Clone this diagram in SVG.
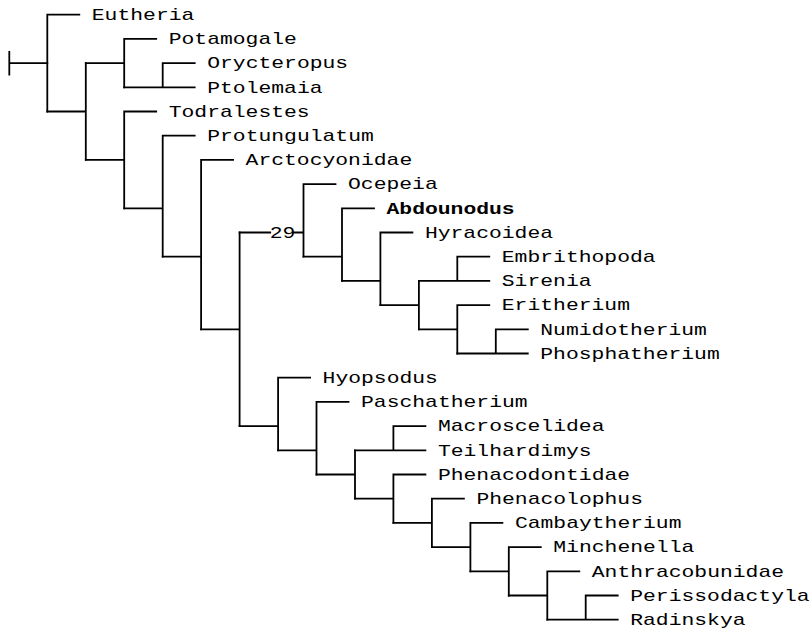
<svg xmlns="http://www.w3.org/2000/svg" width="811" height="632" viewBox="0 0 811 632">
<style>
.c{fill:none;stroke:#000;stroke-width:1.8;stroke-linecap:square}
.t{font-family:"Liberation Mono","Courier New",monospace;font-size:17px;fill:#000}
.b{font-weight:bold}
</style>
<rect width="811" height="632" fill="#fff"/>
<g id="connectors" class="c">
<path d="M9.3,52 V74.5 M9.3,63.1 H47.3"/>
<path d="M47.3,14.7 V111.5 M47.3,14.7 H79.3"/>
<path d="M47.3,111.5 H85.8 M85.8,63.1 V159.9"/>
<path d="M85.8,63.1 H124.2 M124.2,38.9 V87.3 M124.2,38.9 H156.2"/>
<path d="M124.2,87.3 H162.7 M162.7,63.1 V87.3 M162.7,63.1 H194.7 M162.7,87.3 H194.7"/>
<path d="M85.8,159.9 H124.2 M124.2,111.5 V208.3 M124.2,111.5 H156.2"/>
<path d="M124.2,208.3 H162.7 M162.7,135.7 V256.7 M162.7,135.7 H194.7"/>
<path d="M162.7,256.7 H201.1 M201.1,159.9 V329.3 M201.1,159.9 H233.1"/>
<path d="M201.1,329.3 H239.6 M239.6,232.5 V426.1"/>
<path d="M239.6,232.5 H270.2 M293.5,232.5 H303.5 M303.5,184.1 V256.7 M303.5,184.1 H335.5"/>
<path d="M303.5,256.7 H342 M342,208.3 V280.9 M342,208.3 H374"/>
<path d="M342,280.9 H380.4 M380.4,232.5 V305.1 M380.4,232.5 H412.4"/>
<path d="M380.4,305.1 H418.9 M418.9,280.9 V329.3"/>
<path d="M418.9,280.9 H457.3 M457.3,256.7 V280.9 M457.3,256.7 H489.3 M457.3,280.9 H489.3"/>
<path d="M418.9,329.3 H457.3 M457.3,305.1 V353.5 M457.3,305.1 H489.3"/>
<path d="M457.3,353.5 H495.8 M495.8,329.3 V353.5 M495.8,329.3 H527.8 M495.8,353.5 H527.8"/>
<path d="M239.6,426.1 H278.1 M278.1,377.7 V450.3 M278.1,377.7 H310.1"/>
<path d="M278.1,450.3 H316.5 M316.5,401.9 V474.5 M316.5,401.9 H348.5"/>
<path d="M316.5,474.5 H355 M355,450.3 V498.7"/>
<path d="M355,450.3 H393.4 M393.4,426.1 V450.3 M393.4,426.1 H425.4 M393.4,450.3 H425.4"/>
<path d="M355,498.7 H393.4 M393.4,474.5 V522.9 M393.4,474.5 H425.4"/>
<path d="M393.4,522.9 H431.9 M431.9,498.7 V547.1 M431.9,498.7 H463.9"/>
<path d="M431.9,547.1 H470.4 M470.4,522.9 V571.3 M470.4,522.9 H502.4"/>
<path d="M470.4,571.3 H508.8 M508.8,547.1 V595.5 M508.8,547.1 H540.8"/>
<path d="M508.8,595.5 H547.3 M547.3,571.3 V619.7 M547.3,571.3 H579.3"/>
<path d="M547.3,619.7 H585.7 M585.7,595.5 V619.7 M585.7,595.5 H617.7 M585.7,619.7 H617.7"/>
</g>
<g id="label-29"><text class="t" text-anchor="middle" transform="translate(282.5 237.8) scale(1.2569 1)">29</text></g>
<g id="Eutheria"><text class="t" transform="translate(91.8 20) scale(1.2569 1)">Eutheria</text></g>
<g id="Potamogale"><text class="t" transform="translate(168.7 44.2) scale(1.2569 1)">Potamogale</text></g>
<g id="Orycteropus"><text class="t" transform="translate(207.2 68.4) scale(1.2569 1)">Orycteropus</text></g>
<g id="Ptolemaia"><text class="t" transform="translate(207.2 92.6) scale(1.2569 1)">Ptolemaia</text></g>
<g id="Todralestes"><text class="t" transform="translate(168.7 116.8) scale(1.2569 1)">Todralestes</text></g>
<g id="Protungulatum"><text class="t" transform="translate(207.2 141) scale(1.2569 1)">Protungulatum</text></g>
<g id="Arctocyonidae"><text class="t" transform="translate(245.6 165.2) scale(1.2569 1)">Arctocyonidae</text></g>
<g id="Ocepeia"><text class="t" transform="translate(348 189.4) scale(1.2569 1)">Ocepeia</text></g>
<g id="Abdounodus"><text class="t b" transform="translate(386.5 213.6) scale(1.2569 1)">Abdounodus</text></g>
<g id="Hyracoidea"><text class="t" transform="translate(424.9 237.8) scale(1.2569 1)">Hyracoidea</text></g>
<g id="Embrithopoda"><text class="t" transform="translate(501.8 262) scale(1.2569 1)">Embrithopoda</text></g>
<g id="Sirenia"><text class="t" transform="translate(501.8 286.2) scale(1.2569 1)">Sirenia</text></g>
<g id="Eritherium"><text class="t" transform="translate(501.8 310.4) scale(1.2569 1)">Eritherium</text></g>
<g id="Numidotherium"><text class="t" transform="translate(540.3 334.6) scale(1.2569 1)">Numidotherium</text></g>
<g id="Phosphatherium"><text class="t" transform="translate(540.3 358.8) scale(1.2569 1)">Phosphatherium</text></g>
<g id="Hyopsodus"><text class="t" transform="translate(322.6 383) scale(1.2569 1)">Hyopsodus</text></g>
<g id="Paschatherium"><text class="t" transform="translate(361 407.2) scale(1.2569 1)">Paschatherium</text></g>
<g id="Macroscelidea"><text class="t" transform="translate(437.9 431.4) scale(1.2569 1)">Macroscelidea</text></g>
<g id="Teilhardimys"><text class="t" transform="translate(437.9 455.6) scale(1.2569 1)">Teilhardimys</text></g>
<g id="Phenacodontidae"><text class="t" transform="translate(437.9 479.8) scale(1.2569 1)">Phenacodontidae</text></g>
<g id="Phenacolophus"><text class="t" transform="translate(476.4 504) scale(1.2569 1)">Phenacolophus</text></g>
<g id="Cambaytherium"><text class="t" transform="translate(514.9 528.2) scale(1.2569 1)">Cambaytherium</text></g>
<g id="Minchenella"><text class="t" transform="translate(553.3 552.4) scale(1.2569 1)">Minchenella</text></g>
<g id="Anthracobunidae"><text class="t" transform="translate(591.8 576.6) scale(1.2569 1)">Anthracobunidae</text></g>
<g id="Perissodactyla"><text class="t" transform="translate(630.2 600.8) scale(1.2569 1)">Perissodactyla</text></g>
<g id="Radinskya"><text class="t" transform="translate(630.2 625) scale(1.2569 1)">Radinskya</text></g>
</svg>
